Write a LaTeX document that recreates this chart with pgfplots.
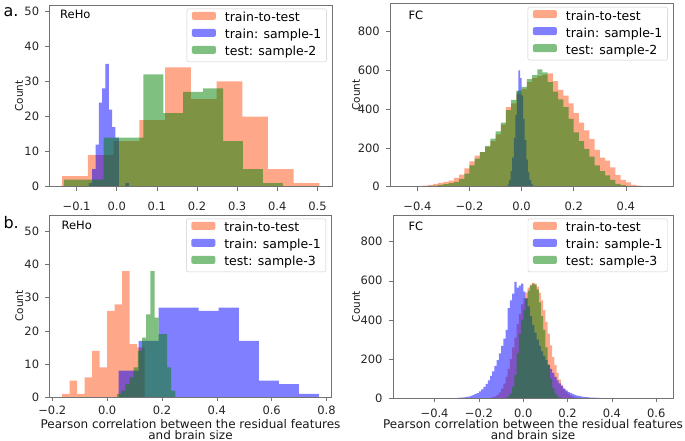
\documentclass[border=0pt]{standalone}
\usepackage{fontspec}
\setmainfont{DejaVu Sans}
\usepackage{pgfplots}
\pgfplotsset{compat=1.18}
\definecolor{cor}{RGB}{255,80,20}
\definecolor{cbl}{RGB}{0,0,255}
\definecolor{cgr}{RGB}{0,128,0}
\pgfplotsset{
  myax/.style={
    scale only axis, axis on top, anchor=north west,
    tick align=outside, xtick pos=bottom, ytick pos=left,
    major tick length=4pt,
    axis line style={black!55}, every tick/.style={black!55, line width=0.6pt},
    /pgf/number format/assume math mode=true,
    tick label style={font=\fontsize{11.5}{13}\selectfont, text=black!85, inner sep=0pt},
    yticklabel style={xshift=-6pt},
    ymin=0,
    ylabel={Count},
    every axis y label/.style={rotate=90, anchor=base, font=\fontsize{10.5}{12}\selectfont, text=black!90},
    legend cell align=left,
    legend style={at={(0.98,0.98)}, anchor=north east, draw=black!20, rounded corners=2pt,
      fill=white, fill opacity=0.8, text opacity=1, inner xsep=5pt, inner ysep=3pt,
      font=\fontsize{12.5}{14}\selectfont, row sep=4pt, column sep=9pt,
      nodes={inner sep=0pt, text height=9pt, text depth=3pt}},
    legend image code/.code={\fill[##1] (0pt,-1pt) rectangle (24pt,7pt);},
  },
  hor/.style={fill=cor, fill opacity=0.5, draw=none, const plot},
  hbl/.style={fill=cbl, fill opacity=0.5, draw=none, const plot},
  hgr/.style={fill=cgr, fill opacity=0.5, draw=none, const plot},
}
\begin{document}
\begin{tikzpicture}
\useasboundingbox (0pt,0pt) rectangle (685pt,-441pt);
% ---------------- a. ReHo
\begin{axis}[myax, at={(49.3pt,-5pt)}, width=283pt, height=181.7pt,
  xmin=-0.168, xmax=0.537, ymax=51.8,
  xtick={-0.1,0,0.1,0.2,0.3,0.4,0.5},
  xticklabels={−0.1,0.0,0.1,0.2,0.3,0.4,0.5},
  ytick={0,10,20,30,40,50},
  xticklabel style={yshift=-11pt},
  ylabel style={at={(axis description cs:-0.093,0.5)}}]
\addplot[hor] coordinates {(-0.136,0) (-0.136,3) (-0.0719,9) (-0.0078,13) (0.0563,19) (0.1204,34) (0.1845,25) (0.2486,30) (0.3127,20) (0.3768,5) (0.4409,1) (0.505,0)} \closedcycle;
\addplot[hbl] coordinates {(-0.0695,0) (-0.0695,1) (-0.0612,5) (-0.0529,12) (-0.0446,24) (-0.0363,28) (-0.028,35) (-0.0197,22) (-0.0114,17) (-0.0031,14) (0.0052,0) (0.0135,0) (0.0218,1) (0.0301,0)} \closedcycle;
\addplot[hgr] coordinates {(-0.132,0) (-0.132,2) (-0.0824,2) (-0.0328,14) (0.0168,14) (0.0664,32) (0.116,21) (0.1656,27) (0.2152,28) (0.2648,13) (0.3144,5) (0.364,1) (0.4136,0)} \closedcycle;
\legend{train-to-test, train: sample-1, test: sample-2}
\node[anchor=base west, font=\fontsize{11.5}{13}\selectfont] at (rel axis cs:0.026,0.927) {ReHo};
\end{axis}
% ---------------- a. FC
\begin{axis}[myax, at={(390pt,-3.3pt)}, width=283.3pt, height=183.4pt,
  xmin=-0.505, xmax=0.582, ymax=946,
  xtick={-0.4,-0.2,0,0.2,0.4},
  xticklabels={−0.4,−0.2,0.0,0.2,0.4},
  ytick={0,200,400,600,800},
  xticklabel style={yshift=-11pt},
  ylabel style={at={(axis description cs:-0.106,0.5)}}]
\addplot[hor] coordinates {(-0.44,0) (-0.44,1) (-0.42,2) (-0.40,3) (-0.38,5) (-0.36,8) (-0.34,14) (-0.32,20) (-0.30,25) (-0.28,31) (-0.26,45) (-0.24,62) (-0.22,95) (-0.20,130) (-0.18,160) (-0.16,178) (-0.14,205) (-0.12,235) (-0.10,270) (-0.08,320) (-0.06,410) (-0.04,430) (-0.02,478) (0.00,505) (0.02,540) (0.04,560) (0.06,570) (0.08,578) (0.10,585) (0.12,545) (0.14,500) (0.16,470) (0.18,430) (0.20,380) (0.22,330) (0.24,290) (0.26,245) (0.28,190) (0.30,150) (0.32,135) (0.34,100) (0.36,60) (0.38,35) (0.40,22) (0.42,10) (0.44,6) (0.46,3) (0.48,1) (0.50,0)} \closedcycle;
\addplot[hbl] coordinates {(-0.060,0) (-0.060,3) (-0.054,12) (-0.048,35) (-0.042,80) (-0.036,150) (-0.030,250) (-0.024,370) (-0.018,490) (-0.012,600) (-0.006,560) (0.000,470) (0.006,350) (0.012,240) (0.018,140) (0.024,75) (0.030,35) (0.036,14) (0.042,5) (0.048,1) (0.054,0)} \closedcycle;
\addplot[hgr] coordinates {(-0.38,0) (-0.38,2) (-0.36,4) (-0.34,6) (-0.32,9) (-0.30,13) (-0.28,18) (-0.26,25) (-0.24,40) (-0.22,68) (-0.20,110) (-0.18,145) (-0.16,178) (-0.14,210) (-0.12,248) (-0.10,285) (-0.08,330) (-0.06,395) (-0.04,448) (-0.02,495) (0.00,515) (0.02,555) (0.04,575) (0.06,605) (0.08,590) (0.10,540) (0.12,490) (0.14,450) (0.16,410) (0.18,350) (0.20,280) (0.22,235) (0.24,195) (0.26,155) (0.28,110) (0.30,80) (0.32,58) (0.34,35) (0.36,15) (0.38,8) (0.40,3) (0.42,0)} \closedcycle;
\legend{train-to-test, train: sample-1, test: sample-2}
\node[anchor=base west, font=\fontsize{11.5}{13}\selectfont] at (rel axis cs:0.053,0.913) {FC};
\end{axis}
% ---------------- b. ReHo
\begin{axis}[myax, at={(49.3pt,-215pt)}, width=282.4pt, height=182.3pt,
  xmin=-0.211, xmax=0.819, ymax=54.9,
  xtick={-0.2,0,0.2,0.4,0.6,0.8},
  xticklabels={−0.2,0.0,0.2,0.4,0.6,0.8},
  ytick={0,10,20,30,40,50},
  xticklabel style={yshift=-4pt},
  ylabel style={at={(axis description cs:-0.093,0.5)}},
  xlabel={Pearson correlation between the residual features\\and brain size},
  xlabel style={at={(axis description cs:0.5,0)}, anchor=north, yshift=-22pt, align=center, inner sep=0pt, font=\fontsize{12}{10.7}\selectfont, text=black!90}]
\addplot[hor] coordinates {(-0.164,0) (-0.164,1) (-0.1367,5) (-0.1094,1) (-0.0821,6) (-0.0548,14) (-0.0275,9) (-0.0002,26) (0.0271,28) (0.0544,38) (0.0817,16) (0.109,15) (0.1363,0)} \closedcycle;
\addplot[hbl] coordinates {(0.042,0) (0.042,8) (0.115,17) (0.188,27) (0.261,27) (0.334,26) (0.407,27) (0.480,17) (0.553,5) (0.626,4) (0.699,1) (0.772,0)} \closedcycle;
\addplot[hgr] coordinates {(0.036,0) (0.036,1) (0.0512,2) (0.0664,4) (0.0816,6) (0.0968,9) (0.112,14) (0.1272,18) (0.1424,25) (0.1576,38) (0.1728,24) (0.188,19) (0.2032,19) (0.2184,9) (0.2336,2) (0.2488,0)} \closedcycle;
\legend{train-to-test, train: sample-1, test: sample-3}
\node[anchor=base west, font=\fontsize{11.5}{13}\selectfont] at (rel axis cs:0.031,0.922) {ReHo};
\end{axis}
% ---------------- b. FC
\begin{axis}[myax, at={(392.7pt,-215pt)}, width=280.6pt, height=183.3pt,
  xmin=-0.589, xmax=0.677, ymax=936,
  xtick={-0.4,-0.2,0,0.2,0.4,0.6},
  xticklabels={−0.4,−0.2,0.0,0.2,0.4,0.6},
  ytick={0,200,400,600,800},
  xticklabel style={yshift=-6pt},
  ylabel style={at={(axis description cs:-0.117,0.5)}},
  xlabel={Pearson correlation between the residual features\\and brain size},
  xlabel style={at={(axis description cs:0.5,0)}, anchor=north, yshift=-21pt, align=center, inner sep=0pt, font=\fontsize{12}{10.7}\selectfont, text=black!90}]
\addplot[hor] coordinates {(-0.15,0) (-0.15,3) (-0.14,6) (-0.13,10) (-0.12,18) (-0.11,30) (-0.10,50) (-0.09,75) (-0.08,110) (-0.07,150) (-0.06,200) (-0.05,260) (-0.04,310) (-0.03,380) (-0.02,430) (-0.01,480) (0.00,510) (0.01,540) (0.02,565) (0.03,580) (0.04,590) (0.05,585) (0.06,570) (0.07,540) (0.08,500) (0.09,450) (0.10,390) (0.11,330) (0.12,270) (0.13,210) (0.14,170) (0.15,130) (0.16,95) (0.17,70) (0.18,50) (0.19,35) (0.20,22) (0.21,14) (0.22,8) (0.23,5) (0.24,3) (0.25,1) (0.26,0)} \closedcycle;
\addplot[hbl] coordinates {(-0.30,0) (-0.30,2) (-0.29,3) (-0.28,4) (-0.27,5) (-0.26,7) (-0.25,9) (-0.24,12) (-0.23,16) (-0.22,21) (-0.21,27) (-0.20,35) (-0.19,45) (-0.18,58) (-0.17,74) (-0.16,92) (-0.15,115) (-0.14,138) (-0.13,165) (-0.12,195) (-0.11,230) (-0.10,268) (-0.09,305) (-0.08,350) (-0.07,460) (-0.06,500) (-0.05,535) (-0.04,595) (-0.03,565) (-0.02,575) (-0.01,585) (0.00,545) (0.01,510) (0.02,470) (0.03,420) (0.04,375) (0.05,335) (0.06,300) (0.07,268) (0.08,240) (0.09,215) (0.10,195) (0.11,172) (0.12,150) (0.13,130) (0.14,110) (0.15,92) (0.16,76) (0.17,62) (0.18,50) (0.19,40) (0.20,32) (0.21,26) (0.22,21) (0.23,17) (0.24,14) (0.25,11) (0.26,9) (0.27,7) (0.28,6) (0.29,5) (0.30,4) (0.31,3) (0.32,3) (0.33,2) (0.34,2) (0.35,1) (0.36,1) (0.37,1) (0.38,1) (0.39,1) (0.40,0)} \closedcycle;
\addplot[hgr] coordinates {(-0.08,0) (-0.08,3) (-0.07,10) (-0.06,25) (-0.05,60) (-0.04,120) (-0.03,230) (-0.02,330) (-0.01,400) (0.00,450) (0.01,510) (0.02,550) (0.03,575) (0.04,585) (0.05,580) (0.06,555) (0.07,490) (0.08,420) (0.09,350) (0.10,260) (0.11,170) (0.12,100) (0.13,55) (0.14,25) (0.15,10) (0.16,3) (0.17,0)} \closedcycle;
\legend{train-to-test, train: sample-1, test: sample-3}
\node[anchor=base west, font=\fontsize{11.5}{13}\selectfont] at (rel axis cs:0.044,0.918) {FC};
\end{axis}
\node[anchor=base west, font=\fontsize{16}{18}\selectfont] at (0pt,-17pt) {a.};
\node[anchor=base west, font=\fontsize{16}{18}\selectfont] at (0pt,-228pt) {b.};
\end{tikzpicture}
\end{document}
